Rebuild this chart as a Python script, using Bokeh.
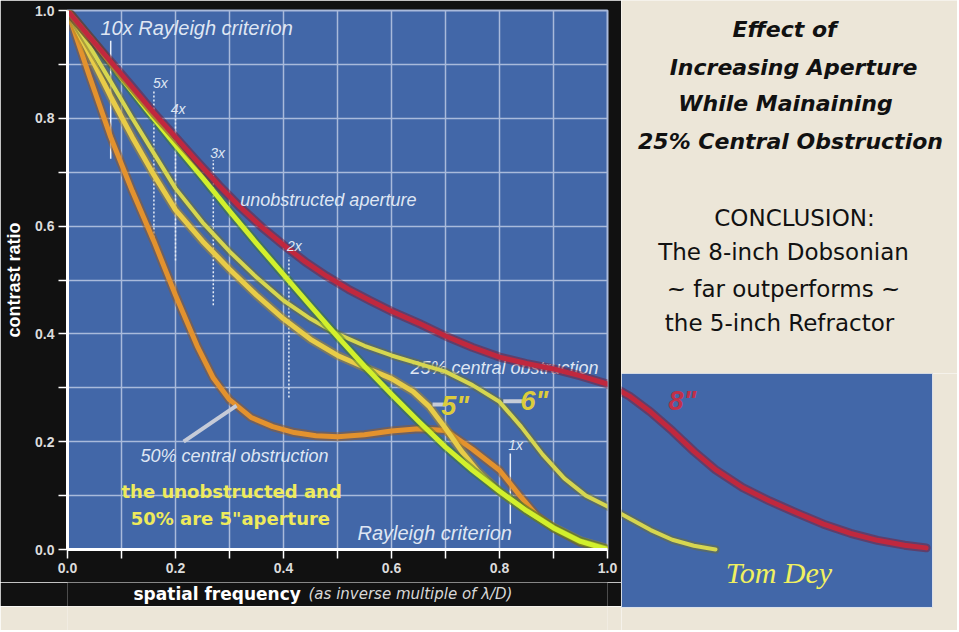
from bokeh.plotting import figure
from bokeh.layouts import row, column
from bokeh.models import Range1d, FixedTicker
from bokeh.core.properties import value
from bokeh.embed import file_html
from bokeh.resources import INLINE

# ---------------- data ----------------
freq_unobs = [0.0, 0.05, 0.1, 0.15, 0.2, 0.25, 0.3, 0.35, 0.4, 0.45, 0.5, 0.55, 0.6,
              0.65, 0.7, 0.75, 0.8, 0.85, 0.9, 0.95, 1.0]
mtf_unobs = [1.0, 0.94, 0.875, 0.812, 0.75, 0.69, 0.628, 0.568, 0.51, 0.452, 0.395,
             0.34, 0.288, 0.238, 0.19, 0.147, 0.108, 0.072, 0.04, 0.015, 0.0]

freq_5in = [0.0, 0.04, 0.08, 0.12, 0.16, 0.2, 0.25, 0.3, 0.35, 0.4, 0.45, 0.5, 0.55,
            0.6, 0.64, 0.67, 0.7, 0.73, 0.76, 0.8, 0.85, 0.9, 0.95, 1.0]
mtf_5in = [1.0, 0.92, 0.84, 0.765, 0.695, 0.63, 0.572, 0.52, 0.472, 0.428, 0.39, 0.36,
           0.338, 0.317, 0.293, 0.265, 0.225, 0.182, 0.145, 0.108, 0.072, 0.041, 0.016, 0.002]

freq_6in = [0.0, 0.04, 0.08, 0.12, 0.16, 0.2, 0.25, 0.3, 0.35, 0.4, 0.45, 0.5, 0.55, 0.6,
            0.65, 0.7, 0.75, 0.8, 0.84, 0.88, 0.92, 0.96, 1.0, 1.04, 1.08, 1.12, 1.16, 1.2]
mtf_6in = [1.0, 0.935, 0.868, 0.8, 0.735, 0.67, 0.607, 0.553, 0.505, 0.462, 0.428, 0.4,
           0.378, 0.36, 0.345, 0.33, 0.305, 0.274, 0.228, 0.176, 0.132, 0.1, 0.08, 0.058,
           0.036, 0.018, 0.007, 0.0]

freq_8in = [0.0, 0.04, 0.08, 0.12, 0.16, 0.2, 0.24, 0.28, 0.32, 0.36, 0.4, 0.44, 0.48,
            0.52, 0.56, 0.6, 0.65, 0.7, 0.75, 0.8, 0.85, 0.9, 0.95, 1.0, 1.04, 1.08, 1.12,
            1.16, 1.2, 1.25, 1.3, 1.35, 1.4, 1.45, 1.5, 1.55, 1.59]
mtf_8in = [1.0, 0.952, 0.905, 0.858, 0.81, 0.765, 0.72, 0.676, 0.635, 0.598, 0.565, 0.534,
           0.507, 0.483, 0.462, 0.442, 0.42, 0.396, 0.375, 0.357, 0.345, 0.335, 0.322,
           0.307, 0.285, 0.255, 0.22, 0.182, 0.148, 0.115, 0.09, 0.068, 0.047, 0.03,
           0.017, 0.008, 0.003]

freq_50 = [0.0, 0.04, 0.08, 0.12, 0.16, 0.2, 0.24, 0.27, 0.3, 0.34, 0.38, 0.42, 0.46, 0.5,
           0.55, 0.6, 0.65, 0.7, 0.75, 0.8, 0.84, 0.87, 0.9, 0.95, 1.0]
mtf_50 = [1.0, 0.88, 0.765, 0.665, 0.572, 0.472, 0.378, 0.318, 0.278, 0.245, 0.228, 0.217,
          0.211, 0.209, 0.213, 0.22, 0.224, 0.221, 0.186, 0.147, 0.097, 0.062, 0.04, 0.013, 0.0]

# Rayleigh criterion markers (multiple, frequency, extent of marker line)
rayleigh_mult = ["10x", "5x", "4x", "3x", "2x", "1x"]
rayleigh_freq = [0.08, 0.16, 0.2, 0.27, 0.41, 0.82]
rayleigh_top = [0.944, 0.852, 0.805, 0.722, 0.542, 0.178]
rayleigh_bot = [0.725, 0.579, 0.536, 0.453, 0.282, 0.048]
rayleigh_solid = [True, False, False, False, False, True]

x_ticks = [0.0, 0.1, 0.2, 0.3, 0.4, 0.5, 0.6, 0.7, 0.8, 0.9, 1.0]
y_ticks = [0.0, 0.1, 0.2, 0.3, 0.4, 0.5, 0.6, 0.7, 0.8, 0.9, 1.0]
tick_labels = {0.0: "0.0", 0.2: "0.2", 0.4: "0.4", 0.6: "0.6", 0.8: "0.8", 1.0: "1.0",
               0.1: "", 0.3: "", 0.5: "", 0.7: "", 0.9: ""}

title_lines = ["Effect of", "Increasing Aperture", "While Mainaining", "25% Central Obstruction"]
conclusion_lines = ["CONCLUSION:", "The 8-inch Dobsonian", "~ far outperforms ~", "the 5-inch Refractor"]

# ---------------- colours ----------------
BLUE = "#4267a8"
BEIGE = "#ece6d8"
BLACK = "#111111"
GRID = "#a9badb"
ANNO = "#dfe6f3"

TOTAL_W, TOTAL_H = 957, 630
W_MAIN, H_MAIN, H_XTITLE = 621, 582, 24
W_RIGHT = TOTAL_W - W_MAIN
H_TEXT = 373
BORDER_L, BORDER_R = 67, 14

p = figure(width=W_MAIN, height=H_MAIN, x_range=Range1d(0, 1), y_range=Range1d(0, 1),
           output_backend="svg", toolbar_location=None,
           min_border_left=BORDER_L, min_border_right=BORDER_R, min_border_top=10, min_border_bottom=33,
           background_fill_color=BLUE, border_fill_color=BLACK,
           outline_line_color=GRID, outline_line_width=2)

for ax in (p.xaxis, p.yaxis):
    ax.axis_line_color = "white"
    ax.axis_line_width = 3
    ax.major_tick_line_color = "white"
    ax.major_tick_line_width = 1.5
    ax.major_tick_out = 9
    ax.major_tick_in = 0
    ax.minor_tick_line_color = None
    ax.major_label_text_color = "#dcdcdc"
    ax.major_label_text_font = "Liberation Sans"
    ax.major_label_text_font_style = "bold"
    ax.major_label_text_font_size = "14px"
    ax.major_label_standoff = 4
    ax.major_label_overrides = tick_labels

p.xaxis.ticker = FixedTicker(ticks=x_ticks)
p.yaxis.ticker = FixedTicker(ticks=y_ticks)
p.xaxis.axis_label = None
p.yaxis.axis_label = "contrast ratio"
p.yaxis.axis_label_text_color = "white"
p.yaxis.axis_label_text_font = "Liberation Sans"
p.yaxis.axis_label_text_font_style = "bold"
p.yaxis.axis_label_text_font_size = "18px"
p.yaxis.axis_label_standoff = 8

p.xgrid.ticker = FixedTicker(ticks=x_ticks)
p.ygrid.ticker = FixedTicker(ticks=y_ticks)
p.grid.grid_line_color = GRID
p.grid.grid_line_width = 1.5

anno_font = value("Liberation Sans")

# annotation text placed beneath the curves
p.text(x=[0.635], y=[0.336], text=["25% central obstruction"], text_font=anno_font,
       text_font_style="italic", text_font_size="18px", text_color=ANNO, text_baseline="middle")

# Rayleigh markers
for f, t_, b, s in zip(rayleigh_freq, rayleigh_top, rayleigh_bot, rayleigh_solid):
    p.segment(x0=[f], y0=[b], x1=[f], y1=[t_], line_color="#e8eef8", line_width=1.5,
              line_dash="solid" if s else "2 2")

# curves (glow + line)
def curve(fig, xs, ys, col, glow, w):
    fig.line(xs, ys, line_color=glow, line_width=w + 4, line_alpha=0.5, line_join="round", line_cap="round")
    fig.line(xs, ys, line_color=col, line_width=w, line_join="round", line_cap="round")

series = [
    (freq_50, mtf_50, "#e3922e", "#9a5a1c", 5),
    (freq_5in, mtf_5in, "#e8cc48", "#b08a20", 5),
    (freq_6in, mtf_6in, "#d6d650", "#6d7030", 4),
    (freq_unobs, mtf_unobs, "#d2f02c", "#3f7a22", 5),
    (freq_8in, mtf_8in, "#c0283e", "#7a1830", 5),
]
for xs, ys, col, glow, w in series:
    curve(p, xs, ys, col, glow, w)

# pointer lines
p.segment(x0=[0.215], y0=[0.2], x1=[0.313], y1=[0.267], line_color="#c6cbd8", line_width=4)
p.segment(x0=[0.676], y0=[0.269], x1=[0.7], y1=[0.269], line_color="#c6cbd8", line_width=4)
p.segment(x0=[0.807], y0=[0.275], x1=[0.848], y1=[0.275], line_color="#c6cbd8", line_width=4)

# labels
p.text(x=[0.061], y=[0.968], text=["10x Rayleigh criterion"], text_font=anno_font,
       text_font_style="italic", text_font_size="20px", text_color=ANNO, text_baseline="middle")
p.text(x=[0.32], y=[0.649], text=["unobstructed aperture"], text_font=anno_font,
       text_font_style="italic", text_font_size="18px", text_color=ANNO, text_baseline="middle")
p.text(x=[0.135], y=[0.174], text=["50% central obstruction"], text_font=anno_font,
       text_font_style="italic", text_font_size="18px", text_color=ANNO, text_baseline="middle")
p.text(x=[0.537], y=[0.03], text=["Rayleigh criterion"], text_font=anno_font,
       text_font_style="italic", text_font_size="20px", text_color=ANNO, text_baseline="middle")
mult_x = [0.172, 0.205, 0.278, 0.42, 0.83]
mult_y = [0.866, 0.818, 0.735, 0.564, 0.194]
p.text(x=mult_x, y=mult_y, text=rayleigh_mult[1:], text_font=anno_font, text_font_style="italic",
       text_font_size="14px", text_color=ANNO, text_baseline="middle", text_align="center")

p.text(x=[0.1, 0.117], y=[0.108, 0.058], text=["the unobstructed and", "50% are 5\"aperture"],
       text_font=value("DejaVu Sans"), text_font_style="bold", text_font_size="18px",
       text_color="#eeea5c", text_baseline="middle")
p.text(x=[0.692, 0.839], y=[0.267, 0.276], text=["5\"", "6\""], text_font=anno_font,
       text_font_style="bold italic", text_font_size="27px", text_color="#dccc3c",
       text_baseline="middle")

# x-axis title strip (two text styles); its frame aligns with the main frame
xt = figure(width=W_MAIN, height=H_XTITLE, x_range=Range1d(BORDER_L, W_MAIN - BORDER_R),
            y_range=Range1d(0, H_XTITLE),
            output_backend="svg", toolbar_location=None, x_axis_location=None, y_axis_location=None,
            min_border_left=BORDER_L, min_border_right=BORDER_R, min_border_top=0, min_border_bottom=0,
            background_fill_color=BLACK, border_fill_color=BLACK, outline_line_color=None)
xt.grid.visible = False
xt.text(x=[133], y=[13], text=["spatial frequency"], text_font=value("DejaVu Sans"),
        text_font_style="bold", text_font_size="17px", text_color="white", text_baseline="middle")
xt.text(x=[308], y=[13], text=["(as inverse multiple of λ/D)"], text_font=value("DejaVu Sans"),
        text_font_style="italic", text_font_size="15px", text_color="#d8d8d8", text_baseline="middle")

# spacer below main panel
sp = figure(width=W_MAIN, height=TOTAL_H - H_MAIN - H_XTITLE, output_backend="svg",
            toolbar_location=None, x_axis_location=None, y_axis_location=None,
            min_border_left=BORDER_L, min_border_right=BORDER_R, min_border_top=0, min_border_bottom=0,
            background_fill_color=BEIGE, border_fill_color=BEIGE, outline_line_color=None)
sp.grid.visible = False
sp.scatter([0], [0], alpha=0)

# right text panel (full-width frame)
t = figure(width=W_RIGHT, height=H_TEXT, x_range=Range1d(0, W_RIGHT), y_range=Range1d(0, H_TEXT),
           output_backend="svg", toolbar_location=None, x_axis_location=None, y_axis_location=None,
           min_border=0, background_fill_color=BEIGE, border_fill_color=BEIGE, outline_line_color=None)
t.grid.visible = False
t.text(x=[163, 172, 164, 169], y=[344, 306, 270, 232], text=title_lines,
       text_font=value("DejaVu Sans"), text_font_style="bold italic", text_font_size="22px",
       text_color="#111111", text_align="center", text_baseline="middle")
t.text(x=[173, 162, 162, 158], y=[156, 122, 85, 51], text=conclusion_lines,
       text_font=value("DejaVu Sans"), text_font_style="normal", text_font_size="23px",
       text_color="#111111", text_align="center", text_baseline="middle")

# inset continuation panel (full-width frame, blue inset drawn as a box)
H_INSET_FIG = TOTAL_H - H_TEXT
inset_x0, inset_x1 = 1.0259, 1.6019
inset_y0, inset_y1 = -0.1076, 0.3265
px_per_x = 540.0
px_per_y = 539.0
q = figure(width=W_RIGHT, height=H_INSET_FIG,
           x_range=Range1d(inset_x0, inset_x0 + W_RIGHT / px_per_x),
           y_range=Range1d(inset_y1 - H_INSET_FIG / px_per_y, inset_y1),
           output_backend="svg", toolbar_location=None, x_axis_location=None, y_axis_location=None,
           min_border=0, background_fill_color=BEIGE, border_fill_color=BEIGE, outline_line_color=None)
q.grid.visible = False
q.quad(left=[inset_x0], right=[inset_x1], bottom=[inset_y0], top=[inset_y1],
       fill_color=BLUE, line_color="#dfe3ea", line_width=1)
curve(q, freq_6in, mtf_6in, "#d6d650", "#6d7030", 4)
curve(q, freq_8in, mtf_8in, "#c0283e", "#7a1830", 5)
q.text(x=[1.113], y=[0.276], text=["8\""], text_font=value("Liberation Sans"),
       text_font_style="bold italic", text_font_size="27px", text_color="#c0304a",
       text_baseline="middle")
q.text(x=[1.219], y=[-0.043], text=["Tom Dey"], text_font=value("Liberation Serif"),
       text_font_style="italic", text_font_size="30px", text_color="#f0f060",
       text_baseline="middle")

layout = row(column(p, xt, sp), column(t, q))

open("out.html", "w").write(file_html(layout, INLINE))
